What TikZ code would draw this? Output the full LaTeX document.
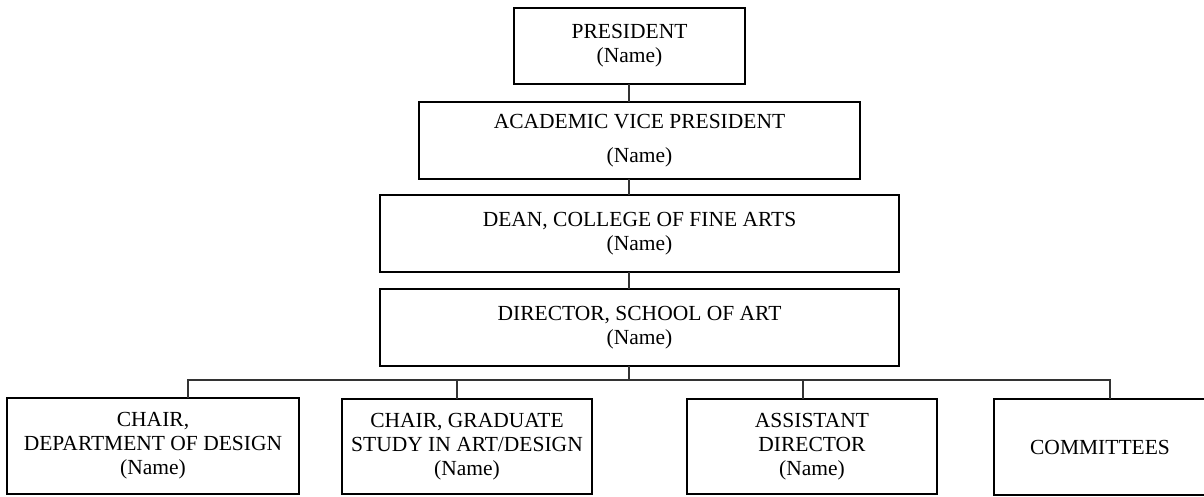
\documentclass[tikz,border=0pt]{standalone}
\usepackage{fontspec}
\setmainfont{Liberation Serif}
\begin{document}
\begin{tikzpicture}[x=1pt,y=-1pt,
  box/.style={draw=black, line width=1.2pt, inner sep=0pt, outer sep=0pt, align=center,
    font=\fontsize{21.5}{24}\selectfont},
  link/.style={draw=black!80, line width=1.1pt}]
\useasboundingbox (0,0) rectangle (1204,496);
% top chain
\node[box, minimum width=231pt, minimum height=76pt] (pres) at (629.5,46) {PRESIDENT\\(Name)};
\node[box, minimum width=441pt, minimum height=77pt] (avp) at (639.5,140.5) {ACADEMIC VICE PRESIDENT\\[10pt](Name)};
\node[box, minimum width=519pt, minimum height=77pt] (dean) at (639.5,233.5) {DEAN, COLLEGE OF FINE ARTS\\(Name)};
\node[box, minimum width=519pt, minimum height=77pt] (dir) at (639.5,327.5) {DIRECTOR, SCHOOL OF ART\\(Name)};
% bottom row
\node[box, minimum width=292pt, minimum height=96pt] (c1) at (153,446) {CHAIR,\\DEPARTMENT OF DESIGN\\(Name)};
\node[box, minimum width=250pt, minimum height=95pt] (c2) at (467,446.5) {CHAIR, GRADUATE\\STUDY IN ART/DESIGN\\(Name)};
\node[box, minimum width=250pt, minimum height=95pt] (c3) at (812,446.5) {ASSISTANT\\DIRECTOR\\(Name)};
\node[box, minimum width=212pt, minimum height=96pt] (c4) at (1100,447) {COMMITTEES};
% connector coordinates
\coordinate (spine) at (629,0);
\coordinate (d1) at (188,380);
\coordinate (d2) at (457,380);
\coordinate (d3) at (803,380);
\coordinate (d4) at (1110,380);
\coordinate (bus) at (629,380);
% connectors
\draw[link] (pres.south -| spine) -- (avp.north -| spine);
\draw[link] (avp.south -| spine) -- (dean.north -| spine);
\draw[link] (dean.south -| spine) -- (dir.north -| spine);
\draw[link] (dir.south -| spine) -- (bus);
\draw[link] (c1.north -| d1) -- (d1) -- (d4) -- (c4.north -| d4);
\draw[link] (c2.north -| d2) -- (d2);
\draw[link] (c3.north -| d3) -- (d3);
\end{tikzpicture}
\end{document}
